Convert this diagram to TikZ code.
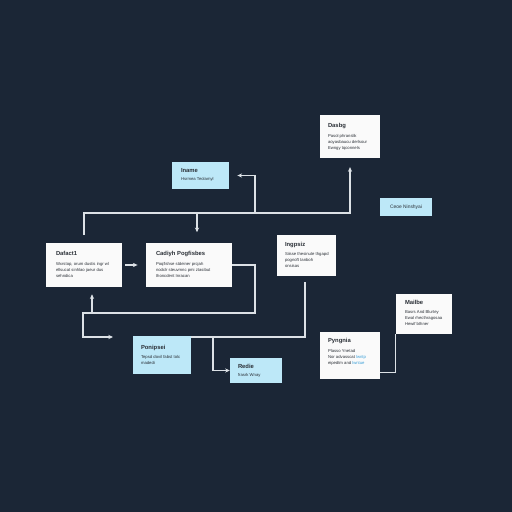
\documentclass[tikz,border=0pt]{standalone}
\usepackage{fontspec}
\setmainfont{Liberation Sans}
\usetikzlibrary{calc,arrows.meta}
\definecolor{bg}{HTML}{1B2636}
\definecolor{boxblue}{HTML}{BDE8F8}
\definecolor{boxwhite}{HTML}{FAFAFA}
\definecolor{wire}{HTML}{DCE1E6}
\definecolor{txt}{HTML}{2A2F36}
\definecolor{linkblue}{HTML}{3A9FD8}
\def\pxu{0.03cm}
\begin{document}
\begin{tikzpicture}[x=0.03cm,y=-0.03cm,
  wbox/.style={fill=boxwhite,draw=none,inner sep=0pt},
  bbox/.style={fill=boxblue,draw=none,inner sep=0pt},
  ttl/.style={anchor=north west,inner sep=0pt,text=txt,font=\fontsize{5}{6}\selectfont\bfseries},
  bdy/.style={anchor=north west,inner sep=0pt,text=txt,align=left,font=\fontsize{3.6}{5.2}\selectfont},
  wire/.style={draw=wire,line width=0.9pt},
  arr/.style={wire,-{Stealth[length=4pt,width=3.6pt]}}]
\fill[bg] (0,0) rectangle (512,512);
\useasboundingbox (0,0) rectangle (512,512);

% boxes
\node[wbox,minimum width=60*\pxu,minimum height=43*\pxu] (dasbg) at (350,136.5) {};
\node[bbox,minimum width=57*\pxu,minimum height=27*\pxu] (iname) at (200.5,175.5) {};
\node[bbox,minimum width=52*\pxu,minimum height=18*\pxu,text=txt,font=\fontsize{4.2}{5}\selectfont] (ceoe) at (406,207) {Ceoe Ninshyai};
\node[wbox,minimum width=76*\pxu,minimum height=44*\pxu] (dafact) at (84,265) {};
\node[wbox,minimum width=86*\pxu,minimum height=44*\pxu] (cadiyh) at (189,265) {};
\node[wbox,minimum width=59*\pxu,minimum height=41*\pxu] (ingpsiz) at (306.5,255.5) {};
\node[bbox,minimum width=58*\pxu,minimum height=38*\pxu] (ponipsei) at (162,355) {};
\node[bbox,minimum width=52*\pxu,minimum height=25*\pxu] (redie) at (256,370.5) {};
\node[wbox,minimum width=60*\pxu,minimum height=47*\pxu] (pyngnia) at (350,355.5) {};
\node[wbox,minimum width=56*\pxu,minimum height=40*\pxu] (mailbe) at (424,314) {};

% texts
\node[ttl] (dasbgT) at ($(dasbg.north west)+(8,8)$) {Dasbg};
\node[bdy] (dasbgB) at ($(dasbg.north west)+(8,19)$) {Pasol phranslik\\aoyasbaucu derlsour\\Ewngy tqconnels};
\node[ttl] (inameT) at ($(iname.north west)+(9,6)$) {Iname};
\node[bdy] (inameB) at ($(iname.north west)+(9,15)$) {Hsrmea Teolamyl};
\node[ttl] (dafactT) at ($(dafact.north west)+(10,8)$) {Dafact1};
\node[bdy] (dafactB) at ($(dafact.north west)+(10,19)$) {Wxrstop, orum dustis ingr wl\\ellsucat sinhlao jaeur dus\\sehndica};
\node[ttl] (cadiyhT) at ($(cadiyh.north west)+(10,8)$) {Cadiyh Pogfisbes};
\node[bdy] (cadiyhB) at ($(cadiyh.north west)+(10,19)$) {Poqfishse stdeiner prcjah\\nodclr steuvmnc pmi ztasibut\\thoncdent Inracan};
\node[ttl] (ingpsizT) at ($(ingpsiz.north west)+(8,7)$) {Ingpsiz};
\node[bdy] (ingpsizB) at ($(ingpsiz.north west)+(8,17)$) {Siisse thesinute thgapd\\pognoft tanboh\\onsisas};
\node[ttl] (ponipseiT) at ($(ponipsei.north west)+(8,9)$) {Ponipsei};
\node[bdy] (ponipseiB) at ($(ponipsei.north west)+(8,19)$) {Tepsd dovil fabst tolc\\madedi};
\node[ttl] (redieT) at ($(redie.north west)+(8,6)$) {Redie};
\node[bdy] (redieB) at ($(redie.north west)+(8,15)$) {frasrk Wnay};
\node[ttl] (pyngniaT) at ($(pyngnia.north west)+(8,6)$) {Pyngnia};
\node[bdy] (pyngniaB) at ($(pyngnia.north west)+(8,17)$) {Plasso Ynetad\\Nor advasscat {\color{linkblue}lwntp}\\eipedtm and {\color{linkblue}lwntue}};
\node[ttl] (mailbeT) at ($(mailbe.north west)+(9,6)$) {Mailbe};
\node[bdy] (mailbeB) at ($(mailbe.north west)+(9,16)$) {Basrs And Blurtey\\Ewal rhecthragosaa\\Hewif bthner};

% upper connectors
\coordinate (hub) at (0,213);
\draw[arr,shorten <=6.8pt,shorten >=7.6pt] (dafact.north) |- (hub -| dasbg.south) -- (dasbg.south);
\draw[arr,shorten >=9pt] (hub -| 197,0) -- ($(cadiyh.north)+(8,0)$);
\draw[arr,shorten >=7pt] (hub -| 255,0) |- (iname.east);

% lower connectors
\draw[arr,shorten <=2.5pt,shorten >=7pt] (dafact.east) -- (cadiyh.west);
\coordinate (loopA) at (255,313);
\coordinate (loopB) at (83,313);
\draw[arr,shorten >=6pt] (cadiyh.east) -| (loopA) -- (92,313) -- ($(dafact.south)+(8,0)$);
\coordinate (freeR) at (113,337);
\draw[arr] (loopA) -- (loopB) |- (freeR);
\coordinate (busR) at (305,337);
\draw[wire,shorten <=5pt] ($(ingpsiz.south)+(-1.5,0)$) -- (busR) -- (ponipsei.north east |- busR);
\draw[arr] (213,337) |- (redie.west);
\draw[wire] ($(pyngnia.south east)+(0,-7)$) -| (mailbe.south west);
\end{tikzpicture}
\end{document}
